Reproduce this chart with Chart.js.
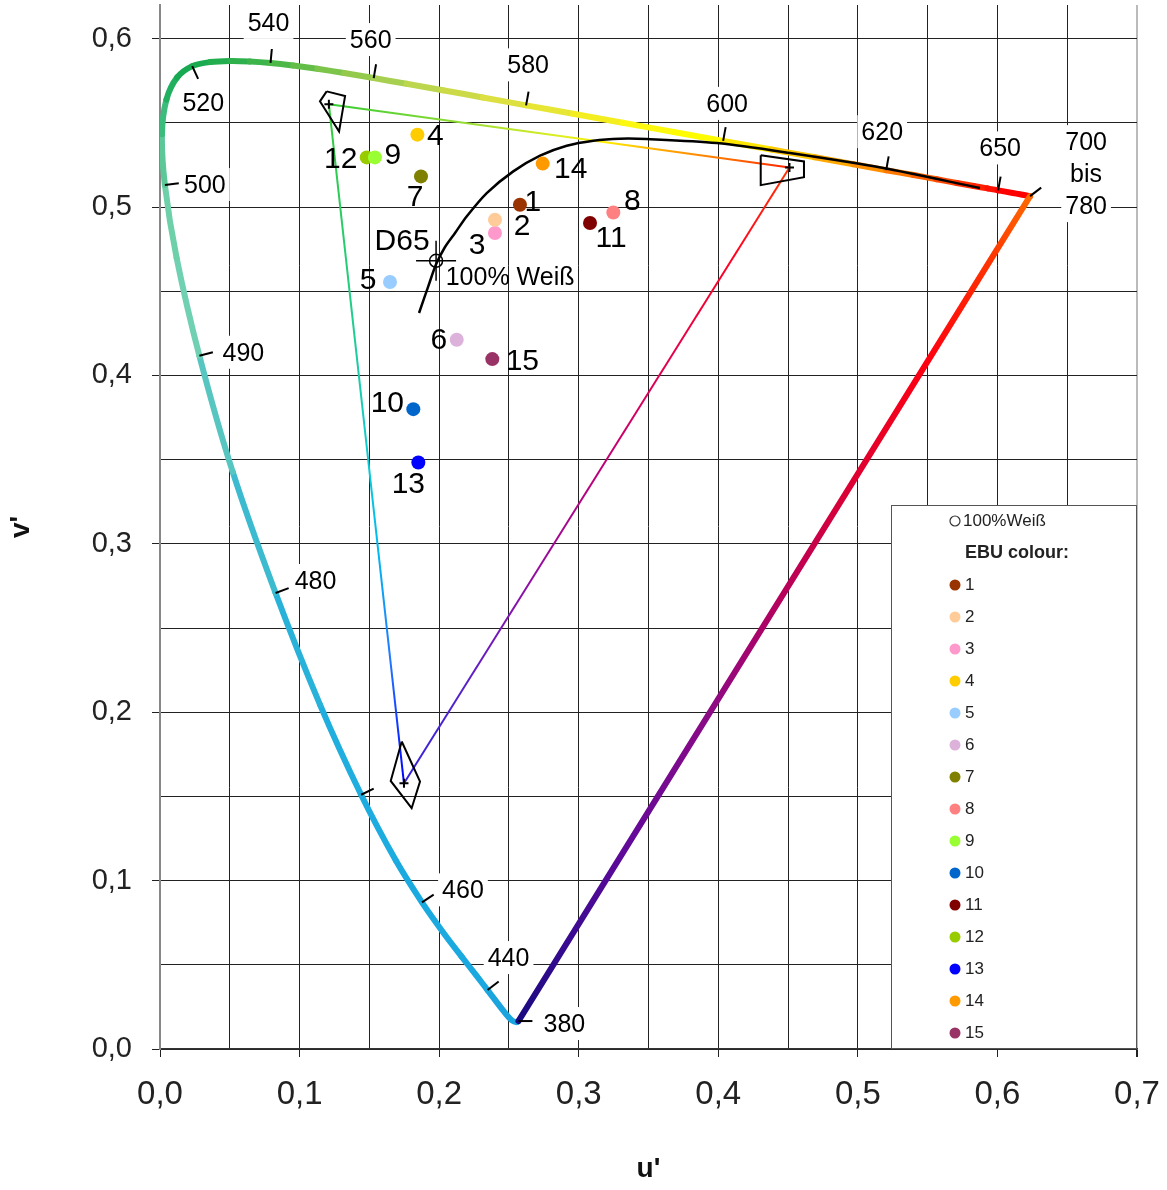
<!DOCTYPE html>
<html lang="de">
<head>
<meta charset="utf-8">
<title>u'v'-Farbtafel – EBU-Farben</title>
<script src="https://cdn.jsdelivr.net/npm/chart.js@4.4.1/dist/chart.umd.min.js"></script>
<style>
  html, body { margin: 0; padding: 0; background: #ffffff; }
  #box { width: 1167px; height: 1190px; }
</style>
</head>
<body>
<div id="box"><canvas id="chart" width="1167" height="1190"></canvas></div>
<script>
// Spektralfarbenzug im CIE-1976-u'v'-Diagramm (Wellenlängen in nm)
const wavelengths = [380,400,420,430,440,445,450,455,460,465,470,475,480,485,490,495,500,505,510,515,520,525,530,535,540,545,550,555,560,565,570,575,580,585,590,595,600,605,610,615,620,625,630,635,640,645,650,660,670,680,700];
const locusU = [0.2568,0.2557,0.2522,0.2461,0.2347,0.2266,0.2161,0.2033,0.1877,0.1690,0.1441,0.1147,0.0828,0.0521,0.0282,0.0119,0.0035,0.0014,0.0046,0.0123,0.0231,0.0360,0.0501,0.0643,0.0792,0.0953,0.1127,0.1319,0.1531,0.1766,0.2026,0.2312,0.2623,0.2960,0.3315,0.3681,0.4035,0.4380,0.4692,0.4968,0.5203,0.5399,0.5565,0.5709,0.5830,0.5929,0.6005,0.6109,0.6162,0.6199,0.6234];
const locusV = [0.0166,0.0159,0.0169,0.0226,0.0350,0.0437,0.0549,0.0688,0.0871,0.1119,0.1510,0.2044,0.2708,0.3427,0.4117,0.4698,0.5131,0.5432,0.5638,0.5770,0.5837,0.5861,0.5868,0.5865,0.5856,0.5841,0.5821,0.5796,0.5766,0.5732,0.5694,0.5651,0.5604,0.5554,0.5501,0.5446,0.5393,0.5342,0.5296,0.5254,0.5219,0.5190,0.5165,0.5143,0.5125,0.5111,0.5099,0.5084,0.5076,0.5070,0.5065];
const locusColors = ['#1AA5DE','#1AA5DE','#1AA5DE','#1AA5DE','#1AA8E0','#1AA8E0','#1AAAE0','#1AAAE0','#1AAAE0','#1CACE0','#20AEDE','#28B2DA','#3CBACF','#58C6C0','#70D0B2','#6ED0A8','#5CC898','#3CBC7C','#22B060','#18AA52','#1AAA50','#22AD4E','#2EB04C','#3CB44A','#4CB848','#62BE48','#7CC44A','#94CA4C','#A8D050','#BCD64E','#CCDA48','#DCE040','#E8E634','#F4EE20','#FCF810','#FFFC00','#FFE600','#FFC800','#FFA800','#FF9000','#FF7800','#FF6000','#FF4800','#FF3000','#FF2000','#FF1000','#FF0000','#FF0000','#FF0000','#FF0000','#FF0000'];

// Wellenlängen mit Markierung und Beschriftung
const markedWavelengths = [380,440,460,470,480,490,500,520,540,560,580,600,620,650,700];
const markedTexts = [['380'],['440'],['460'],[],['480'],['490'],['500'],['520'],['540'],['560'],['580'],['600'],['620'],['650'],['700','bis','780']];

// Planckscher Kurvenzug
const planckU = [0.1856,0.1922,0.1978,0.2040,0.2114,0.2197,0.2341,0.2531,0.2723,0.2914,0.3105,0.3296,0.3487,0.3989,0.4514,0.5182,0.5875];
const planckV = [0.4371,0.4529,0.4660,0.4760,0.4846,0.4944,0.5083,0.5212,0.5305,0.5364,0.5394,0.5406,0.5404,0.5380,0.5321,0.5232,0.5113];

// EBU-Primärvalenzen: Rot, Grün, Blau
const primaryU = [0.4510, 0.1210, 0.1748];
const primaryV = [0.5235, 0.5610, 0.1578];

// Toleranzbereiche um die Primärvalenzen
const tolRedU = [0.4304, 0.4614, 0.4614, 0.4304];
const tolRedV = [0.5308, 0.5271, 0.5177, 0.5130];
const tolGreenU = [0.1194, 0.1326, 0.1283, 0.1146];
const tolGreenV = [0.5687, 0.5659, 0.5449, 0.5628];
const tolBlueU = [0.1732, 0.1863, 0.1803, 0.1653];
const tolBlueV = [0.1826, 0.1588, 0.1430, 0.1592];

// Weißpunkt D65
const whiteU = [0.1978];
const whiteV = [0.4681];

// EBU-Testfarben
const ebuLabels = ['1','2','3','4','5','6','7','8','9','10','11','12','13','14','15'];
const ebuU = [0.2579,0.2400,0.2400,0.1844,0.1648,0.2126,0.1870,0.3248,0.1540,0.1815,0.3081,0.1481,0.1851,0.2742,0.2381];
const ebuV = [0.5014,0.4925,0.4846,0.5430,0.4555,0.4212,0.5182,0.4968,0.5295,0.3800,0.4905,0.5295,0.3483,0.5258,0.4097];
const ebuColors = ['#993300','#FFCC99','#FF99CC','#FFCC00','#99CCFF','#DDB2DA','#808000','#FF8080','#99FF33','#0066CC','#800000','#99CC00','#0000FF','#FF9900','#993366'];

// Achsenbeschriftung
const uTickLabels = ['0,0','0,1','0,2','0,3','0,4','0,5','0,6','0,7'];
const vTickLabels = ['0,0','0,1','0,2','0,3','0,4','0,5','0,6'];

const FONT = "'Liberation Sans', Arial, Helvetica, sans-serif";
Chart.defaults.font.family = FONT;

const pts = (us, vs) => us.map((u, i) => ({ x: u, y: vs[i] }));
const closed = (us, vs) => { const p = pts(us, vs); p.push(p[0]); return p; };
const seg = (i, j) => [{ x: primaryU[i], y: primaryV[i] }, { x: primaryU[j], y: primaryV[j] }];

// Farbverlauf entlang einer geraden Strecke (über die Achsen berechnet)
function gradientAlong(stops) {
  return (c) => {
    const ch = c.chart;
    const ds = ch.data.datasets[c.datasetIndex];
    const sx = ch.scales.x, sy = ch.scales.y;
    if (!ch.chartArea || !sx || !sy) return stops[0][1];
    const a = ds.data[0], b = ds.data[ds.data.length - 1];
    const g = ch.ctx.createLinearGradient(sx.getPixelForValue(a.x), sy.getPixelForValue(a.y),
                                          sx.getPixelForValue(b.x), sy.getPixelForValue(b.y));
    stops.forEach(s => g.addColorStop(s[0], s[1]));
    return g;
  };
}

const lineBase = { showLine: true, pointRadius: 0, pointHoverRadius: 0, fill: false };

const datasets = [
  Object.assign({}, lineBase, {
    label: 'Grün–Rot', data: seg(1, 0), borderWidth: 2, order: 8,
    borderColor: gradientAlong([[0,'#33CC33'],[0.3,'#99DD33'],[0.5,'#DDEE22'],[0.6,'#FFEE00'],[0.72,'#FFAA00'],[0.85,'#FF7700'],[1,'#FF2200']])
  }),
  Object.assign({}, lineBase, {
    label: 'Grün–Blau', data: seg(1, 2), borderWidth: 2, order: 8,
    borderColor: gradientAlong([[0,'#33CC33'],[0.3,'#22CC88'],[0.5,'#11CCCC'],[0.65,'#00BBEE'],[0.82,'#2277FF'],[1,'#0000FF']])
  }),
  Object.assign({}, lineBase, {
    label: 'Rot–Blau', data: seg(0, 2), borderWidth: 2, order: 8,
    borderColor: gradientAlong([[0,'#FF3300'],[0.15,'#FF0022'],[0.35,'#DD0055'],[0.5,'#BB0077'],[0.7,'#8811AA'],[0.85,'#5522CC'],[1,'#3322DD']])
  }),
  Object.assign({}, lineBase, {
    label: 'Spektralfarbenzug', data: pts(locusU, locusV), borderWidth: 6, order: 6,
    borderColor: locusColors[0], borderJoinStyle: 'round', borderCapStyle: 'round', tension: 0.3,
    segment: { borderColor: (c) => locusColors[c.p0DataIndex] }
  }),
  Object.assign({}, lineBase, {
    label: 'Purpurgerade',
    data: [{ x: locusU[locusU.length - 1], y: locusV[locusV.length - 1] }, { x: locusU[0], y: locusV[0] }],
    borderWidth: 6, order: 5, borderCapStyle: 'round',
    borderColor: gradientAlong([[0,'#FF6A00'],[0.08,'#FF3300'],[0.2,'#FF0011'],[0.35,'#DD0033'],[0.48,'#B8005A'],[0.62,'#8E0A84'],[0.78,'#640A99'],[0.9,'#3A0A92'],[1,'#1A0A80']])
  }),
  Object.assign({}, lineBase, {
    label: 'Planckscher Kurvenzug', data: pts(planckU, planckV), borderWidth: 2.5, order: 4,
    borderColor: '#000000', tension: 0.3
  }),
  Object.assign({}, lineBase, { label: 'Toleranz Rot', data: closed(tolRedU, tolRedV), borderWidth: 2, borderColor: '#000', order: 3 }),
  Object.assign({}, lineBase, { label: 'Toleranz Grün', data: closed(tolGreenU, tolGreenV), borderWidth: 2, borderColor: '#000', order: 3 }),
  Object.assign({}, lineBase, { label: 'Toleranz Blau', data: closed(tolBlueU, tolBlueV), borderWidth: 2, borderColor: '#000', order: 3 }),
  {
    label: 'Primärvalenzen', data: pts(primaryU, primaryV), pointStyle: 'cross', pointRadius: 4.5,
    pointHoverRadius: 4.5, borderColor: '#000', borderWidth: 2, order: 2
  },
  {
    label: 'D65', data: pts(whiteU, whiteV), pointStyle: 'cross', pointRadius: 20,
    pointHoverRadius: 20, borderColor: '#000', borderWidth: 1.5, order: 2
  },
  {
    label: '100%Weiß', data: pts(whiteU, whiteV), pointStyle: 'circle', pointRadius: 6.5,
    pointHoverRadius: 6.5, borderColor: '#000', backgroundColor: 'rgba(0,0,0,0)', borderWidth: 1.5, order: 1
  }
];

ebuLabels.forEach((name, i) => {
  datasets.push({
    label: name, data: [{ x: ebuU[i], y: ebuV[i] }], pointStyle: 'circle',
    pointRadius: 7, pointHoverRadius: 7, backgroundColor: ebuColors[i], borderColor: ebuColors[i],
    borderWidth: 0, order: 0, ebu: true
  });
});

// Lage der Beschriftungen relativ zum jeweiligen Punkt (Pixel)
const wlLabelOffset = [[46,3],[21,-32],[41,-12],[14,-9],[40,-12],[44,-3],[40,0],[11,37],[-2,-40],[-3,-38],[2,-40],[4,-37],[-4,-38],[2,-42],[56,-54]];
const ebuLabelOffset = [[13,-3],[27,6],[-18,12],[18,1],[-22,-2],[-18,0],[-6,20],[19,-12],[18,-3],[-26,-6],[21,15],[-26,1],[-10,21],[28,5],[30,2]];

// Wellenlängenmarken und -beschriftungen am Spektralfarbenzug
const wavelengthPlugin = {
  id: 'wavelengthMarks',
  afterDatasetsDraw(chart) {
    const ctx = chart.ctx;
    const locusIndex = chart.data.datasets.findIndex(d => d.label === 'Spektralfarbenzug');
    const el = chart.getDatasetMeta(locusIndex).data;
    ctx.save();
    markedWavelengths.forEach((wl, k) => {
      const i = wavelengths.indexOf(wl);
      const p = el[i];
      const off = wlLabelOffset[k];
      let dx, dy;
      if (i === 0) { dx = 1; dy = 0; }
      else if (i === el.length - 1) { dx = 13; dy = -10; }
      else {
        const a = el[i - 1], b = el[i + 1];
        const tx = b.x - a.x, ty = b.y - a.y;
        dx = -ty; dy = tx;
        if (dx * off[0] + dy * off[1] < 0) { dx = -dx; dy = -dy; }
      }
      const len = Math.hypot(dx, dy);
      dx /= len; dy /= len;
      ctx.strokeStyle = '#000';
      ctx.lineWidth = 2;
      ctx.beginPath();
      ctx.moveTo(p.x, p.y);
      ctx.lineTo(p.x + dx * 14, p.y + dy * 14);
      ctx.stroke();

      ctx.font = '25px ' + FONT;
      ctx.textAlign = 'center';
      ctx.textBaseline = 'middle';
      markedTexts[k].forEach((t, line) => {
        const cx = p.x + off[0];
        const cy = p.y + off[1] + line * 32;
        const w = ctx.measureText(t).width + 8;
        ctx.fillStyle = '#ffffff';
        ctx.fillRect(cx - w / 2, cy - 17, w, 33);
        ctx.fillStyle = '#000000';
        ctx.fillText(t, cx, cy + 1);
      });
    });
    ctx.restore();
  }
};

// Nummern der EBU-Farben und Bezeichnung des Weißpunkts
const pointLabelPlugin = {
  id: 'pointLabels',
  afterDatasetsDraw(chart) {
    const ctx = chart.ctx;
    ctx.save();
    ctx.fillStyle = '#000';
    ctx.textAlign = 'center';
    ctx.textBaseline = 'middle';
    ctx.font = '30px ' + FONT;
    let k = 0;
    chart.data.datasets.forEach((ds, di) => {
      if (!ds.ebu) return;
      const p = chart.getDatasetMeta(di).data[0];
      const off = ebuLabelOffset[k++];
      ctx.fillText(ds.label, p.x + off[0], p.y + off[1] + 1);
    });
    const wi = chart.data.datasets.findIndex(d => d.label === 'D65');
    const w = chart.getDatasetMeta(wi).data[0];
    ctx.fillText('D65', w.x - 34, w.y - 19);
    ctx.font = '25px ' + FONT;
    ctx.fillText('100% Weiß', w.x + 74, w.y + 17);
    ctx.restore();
  }
};

// Legende im Diagrammfeld unten rechts
const legendPlugin = {
  id: 'ebuLegend',
  afterDraw(chart) {
    const ctx = chart.ctx;
    const area = chart.chartArea;
    const right = area.right, bottom = area.bottom;
    const left = right - 246, top = bottom - 544;
    ctx.save();
    ctx.fillStyle = '#ffffff';
    ctx.fillRect(left, top, right - left, bottom - top);
    ctx.strokeStyle = '#555555';
    ctx.lineWidth = 1;
    ctx.strokeRect(left + 0.5, top + 0.5, right - left - 1, bottom - top - 1);

    const mx = left + 64, tx = left + 74;
    ctx.textAlign = 'left';
    ctx.textBaseline = 'middle';
    ctx.beginPath();
    ctx.arc(mx, top + 16, 5, 0, Math.PI * 2);
    ctx.strokeStyle = '#333';
    ctx.lineWidth = 1.2;
    ctx.stroke();
    ctx.fillStyle = '#222';
    ctx.font = '17px ' + FONT;
    ctx.fillText('100%Weiß', tx - 2, top + 16);
    ctx.font = 'bold 18px ' + FONT;
    ctx.fillText('EBU colour:', tx, top + 48);
    ctx.font = '17px ' + FONT;
    let row = 0;
    chart.data.datasets.forEach(ds => {
      if (!ds.ebu) return;
      const y = top + 80 + row * 32;
      ctx.beginPath();
      ctx.arc(mx, y, 5.5, 0, Math.PI * 2);
      ctx.fillStyle = ds.backgroundColor;
      ctx.fill();
      ctx.fillStyle = '#222';
      ctx.fillText(ds.label, tx, y);
      row++;
    });
    ctx.restore();
  }
};

const isMajor = (v) => Math.round(v * 100) % 10 === 0;

const chart = new Chart(document.getElementById('chart'), {
  type: 'scatter',
  data: { datasets },
  options: {
    responsive: false,
    animation: false,
    devicePixelRatio: 1,
    events: [],
    layout: { autoPadding: false, padding: { left: 0, right: 30, top: 5, bottom: 0 } },
    plugins: { legend: { display: false }, tooltip: { enabled: false } },
    scales: {
      x: {
        type: 'linear', min: 0, max: 0.7,
        afterFit: (s) => { s.height = 141; s.paddingLeft = 0; s.paddingRight = 0; },
        border: { display: true, color: '#333333', width: 1.5 },
        grid: {
          color: (c) => (c.tick && Math.round(c.tick.value * 100) === 70) ? '#BBBBBB' : '#222222',
          lineWidth: (c) => (c.tick && Math.round(c.tick.value * 100) === 70) ? 2 : 1,
          drawTicks: true, tickLength: 8,
          tickColor: (c) => (c.tick && isMajor(c.tick.value)) ? '#222222' : 'rgba(0,0,0,0)'
        },
        ticks: {
          stepSize: 0.05, autoSkip: false, maxRotation: 0,
          padding: 18, color: '#222222', font: { size: 33 },
          callback: (v) => isMajor(v) ? uTickLabels[Math.round(v * 10)] : ''
        },
        title: { display: true, text: "u'", color: '#111111', font: { size: 28, weight: 'bold' }, padding: { top: 4, bottom: 4 } }
      },
      y: {
        type: 'linear', min: 0, max: 0.62,
        afterFit: (s) => { s.width = 160; s.paddingTop = 0; s.paddingBottom = 0; },
        border: { display: true, color: '#888888', width: 2 },
        grid: {
          color: '#222222', lineWidth: 1,
          drawTicks: true, tickLength: 8,
          tickColor: (c) => (c.tick && isMajor(c.tick.value)) ? '#222222' : 'rgba(0,0,0,0)'
        },
        ticks: {
          stepSize: 0.05, autoSkip: false, includeBounds: false,
          padding: 20, color: '#222222', font: { size: 29 },
          callback: (v) => isMajor(v) ? vTickLabels[Math.round(v * 10)] : ''
        },
        title: { display: true, text: "v'", color: '#111111', font: { size: 28, weight: 'bold' }, padding: { top: 4, bottom: 4 } }
      }
    }
  },
  plugins: [wavelengthPlugin, pointLabelPlugin, legendPlugin]
});

// Zeichenfläche auf den vorgesehenen Rahmen einpassen
const frame = { left: 160, top: 5, right: 1137, bottom: 1049 };
for (let k = 0; k < 4; k++) {
  const a = chart.chartArea;
  const pad = chart.options.layout.padding;
  const dl = frame.left - a.left, dt = frame.top - a.top;
  const dr = a.right - frame.right, db = a.bottom - frame.bottom;
  if (Math.max(Math.abs(dl), Math.abs(dt), Math.abs(dr), Math.abs(db)) < 0.5) break;
  chart.options.layout.padding = {
    left: pad.left + dl, top: pad.top + dt, right: pad.right + dr, bottom: pad.bottom + db
  };
  chart.update();
}
</script>
</body>
</html>
